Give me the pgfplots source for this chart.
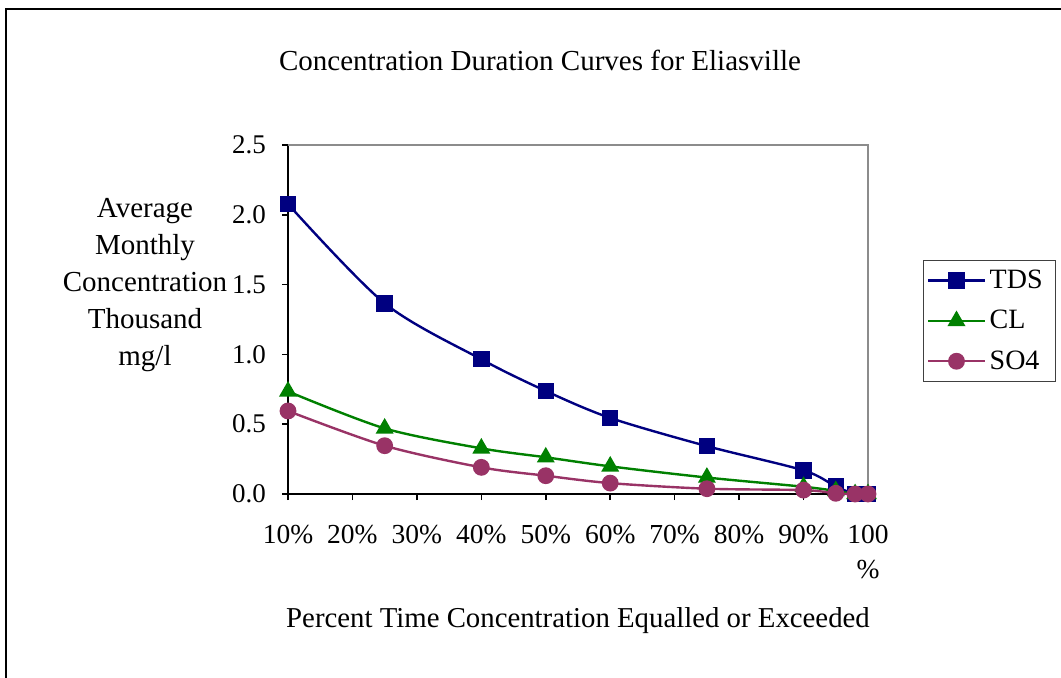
\documentclass[border=0pt]{standalone}
\usepackage{fontspec}
\setmainfont{Liberation Serif}
\usepackage{pgfplots}
\usepackage{pgfplotstable}
\pgfplotsset{compat=1.18}
\definecolor{tds}{RGB}{0,0,128}
\definecolor{cl}{RGB}{0,128,0}
\definecolor{so}{RGB}{153,51,102}

\pgfplotstableread{
x y
0.10 2.077
0.25 1.366
0.40 0.965
0.50 0.738
0.60 0.545
0.75 0.343
0.90 0.169
0.95 0.054
0.98 0.0
1.00 0.0
}\tds
\pgfplotstableread{
x y
0.10 0.735
0.25 0.470
0.40 0.327
0.50 0.263
0.60 0.198
0.75 0.118
0.90 0.052
0.95 0.022
0.98 0.0
1.00 0.0
}\cl
\pgfplotstableread{
x y
0.10 0.595
0.25 0.346
0.40 0.191
0.50 0.131
0.60 0.078
0.75 0.038
0.90 0.028
0.95 0.005
0.98 0.0
1.00 0.0
}\so

\begin{document}
\begin{tikzpicture}
\useasboundingbox (0,0) rectangle (530.5pt,338.5pt);
\begin{scope}
\clip (0,0) rectangle (530.5pt,338.5pt);
\draw[line width=1pt] (3pt,-20pt) |- (560pt,334pt);
\end{scope}
\node[font=\fontsize{14.5}{17}\selectfont] at (270pt,308.5pt) {Concentration Duration Curves for Eliasville};
\node[font=\fontsize{14.5}{18.5}\selectfont, align=center] at (72.5pt,195.75pt) {Average\\Monthly\\Concentration\\Thousand\\mg/l};
\node[font=\fontsize{14.4}{17}\selectfont] at (289pt,28pt) {Percent Time Concentration Equalled or Exceeded};
\begin{axis}[
  at={(144pt,91.5pt)}, anchor=south west,
  scale only axis, width=290pt, height=174.5pt,
  xmin=0.1, xmax=1.0, ymin=0, ymax=2.5,
  axis x line*=bottom, axis y line*=left,
  axis line style={black, line width=0.8pt, -},
  clip=false,
  xtick={0.1,0.2,0.3,0.4,0.5,0.6,0.7,0.8,0.9,1.0},
  xticklabels={10\%,20\%,30\%,40\%,50\%,60\%,70\%,80\%,90\%,{100\\\%}},
  ytick={0,0.5,1,1.5,2,2.5},
  tick align=outside, major tick length=3pt,
  tick style={black, line width=0.8pt},
  /pgf/number format/assume math mode=true,
  yticklabel style={font=\fontsize{13.5}{15}\selectfont, xshift=-4.5pt, /pgf/number format/.cd, fixed, fixed zerofill, precision=1},
  xticklabel style={font=\fontsize{13.75}{17.5}\selectfont, align=center, yshift=-9pt},
  legend style={at={(axis description cs:1.0943,0.6705)}, anchor=north west,
    draw=black!75, line width=0.6pt, font=\fontsize{14}{16}\selectfont,
    row sep=5.4pt, inner xsep=2pt, inner ysep=2.6pt,
    nodes={text width=29pt, align=left}},
  legend cell align=left,
  legend image code/.code={\draw[mark repeat=2,mark phase=2] plot coordinates {(0pt,0pt) (14pt,0pt) (28pt,0pt)};},
]
\draw[gray!90, line width=1pt] (rel axis cs:0,1) -- (rel axis cs:1,1) -- (rel axis cs:1,0);
\addplot[tds, line width=1.2pt, smooth, mark=square*, mark size=3.5pt, mark options={solid}] table {\tds};
\addlegendentry{TDS}
\addplot[cl, line width=1.2pt, smooth, mark=triangle*, mark size=4pt, mark options={solid}] table {\cl};
\addlegendentry{CL}
\addplot[so, line width=1.2pt, smooth, mark=*, mark size=3.6pt, mark options={solid}] table {\so};
\addlegendentry{SO4}
\end{axis}
\end{tikzpicture}
\end{document}
